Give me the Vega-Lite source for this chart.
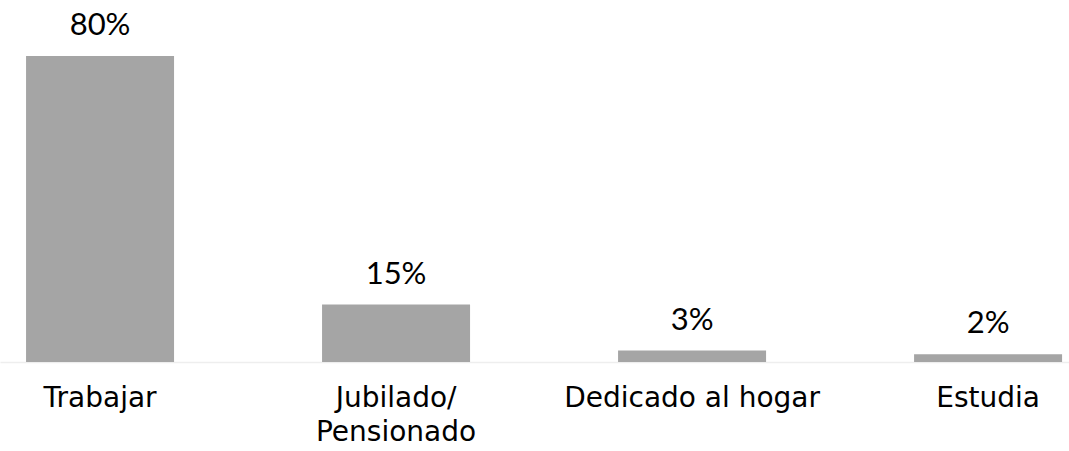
{
  "$schema": "https://vega.github.io/schema/vega-lite/v6.json",
  "width": 1069,
  "height": 362,
  "autosize": {"type": "none"},
  "padding": {"left": 0, "top": 0, "right": 0, "bottom": 89},
  "background": "white",
  "config": {"view": {"stroke": null}},
  "data": {
    "values": [
      {"cat": "Trabajar", "pct": 80, "label": "80%"},
      {"cat": "Jubilado/\nPensionado", "pct": 15, "label": "15%"},
      {"cat": "Dedicado al hogar", "pct": 3, "label": "3%"},
      {"cat": "Estudia", "pct": 2, "label": "2%"}
    ]
  },
  "encoding": {
    "x": {
      "field": "cat", "type": "nominal", "sort": null,
      "scale": {"paddingInner": 0.5, "paddingOuter": 0.0557, "align": 0.79},
      "axis": {
        "title": null, "labelAngle": 0, "ticks": false, "labelLimit": 0,
        "domainColor": "#EEEEEE", "domainWidth": 1.5,
        "labelFont": "DejaVu Sans", "labelFontSize": 28, "labelColor": "#000000",
        "labelPadding": 22, "labelLineHeight": 34, "labelBaseline": "top",
        "labelExpr": "split(datum.label, '\\n')"
      }
    },
    "y": {
      "field": "pct", "type": "quantitative",
      "scale": {"domain": [0, 94.64]},
      "axis": null
    }
  },
  "layer": [
    {"mark": {"type": "bar", "color": "#A5A5A5"}},
    {
      "mark": {"type": "text", "font": "Lato", "fontSize": 31, "color": "#000000", "baseline": "alphabetic", "dy": -21},
      "encoding": {"text": {"field": "label", "type": "nominal"}}
    }
  ]
}
